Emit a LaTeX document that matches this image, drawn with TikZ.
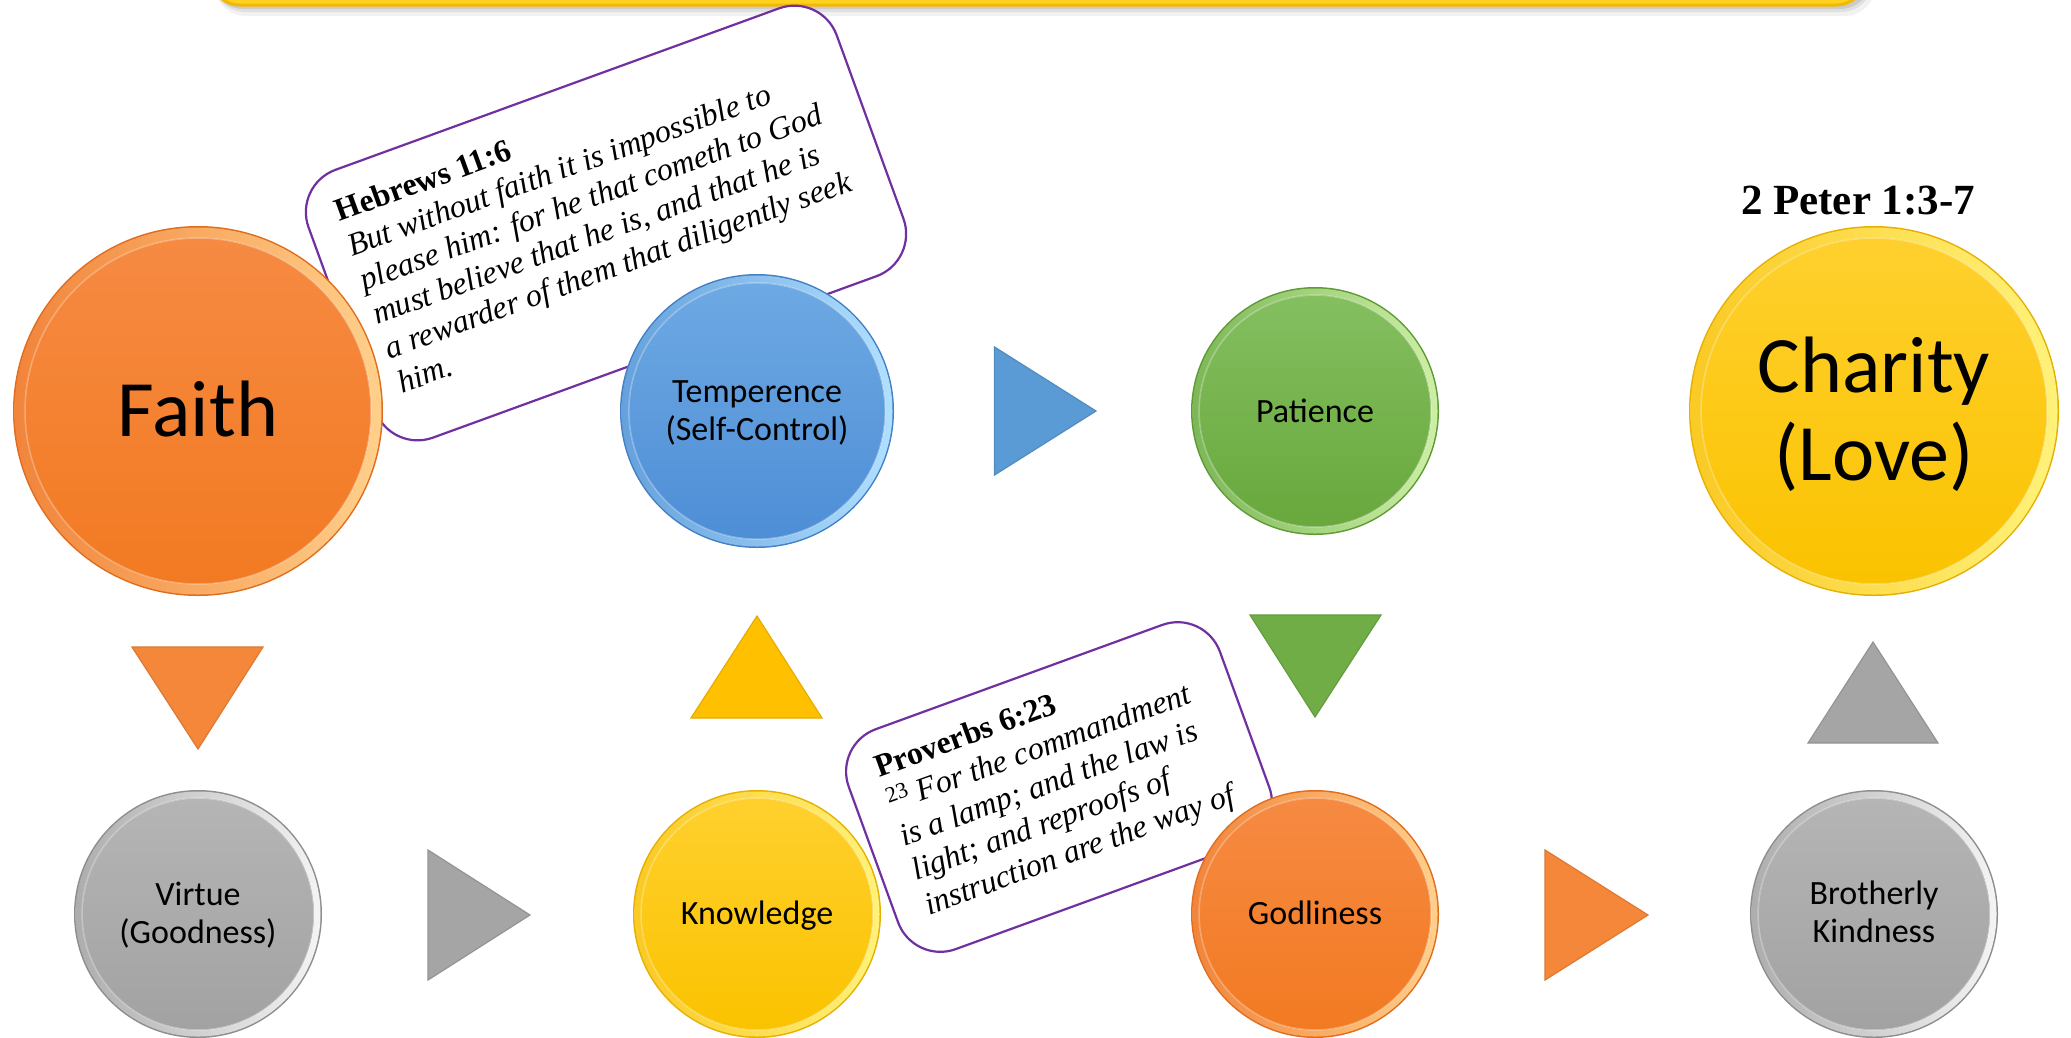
\documentclass[tikz,border=0pt]{standalone}
\usepackage{fontspec}
\setmainfont{Liberation Serif}
\newfontfamily\carl{Carlito}
\definecolor{orT}{HTML}{F68A42}
\definecolor{orB}{HTML}{F27A22}
\definecolor{orE}{HTML}{E06D1E}
\definecolor{orH}{HTML}{FFD08A}
\definecolor{blT}{HTML}{6DA9E3}
\definecolor{blB}{HTML}{4E8ED6}
\definecolor{blE}{HTML}{4580C4}
\definecolor{blH}{HTML}{B0E0FF}
\definecolor{grT}{HTML}{84BF60}
\definecolor{grB}{HTML}{68A83C}
\definecolor{grE}{HTML}{5E9A36}
\definecolor{grH}{HTML}{CDEFA5}
\definecolor{yeT}{HTML}{FFD02E}
\definecolor{yeB}{HTML}{FAC300}
\definecolor{yeE}{HTML}{E6B000}
\definecolor{yeH}{HTML}{FFF27A}
\definecolor{gyT}{HTML}{B5B5B5}
\definecolor{gyB}{HTML}{A2A2A2}
\definecolor{gyE}{HTML}{8E8E8E}
\definecolor{gyH}{HTML}{F4F4F4}
\definecolor{triBlue}{HTML}{5B9BD5}
\definecolor{triGray}{HTML}{A5A5A5}
\definecolor{triOrange}{HTML}{F5873A}
\definecolor{triYellow}{HTML}{FFC000}
\definecolor{triGreen}{HTML}{70AD47}
\definecolor{verse}{HTML}{7030A0}
\definecolor{bannerY}{HTML}{FFD21F}
\definecolor{bannerB}{HTML}{F5B800}
\newcommand\Orb[5]{%
  \node[circle, minimum size={2*#4pt}, inner sep=0pt] (#1) at (#2,#3) {};
  \fill[#5E] (#1.center) circle [radius={#4pt}];
  \path[even odd rule, left color=#5T!80!#5E, middle color=#5T, right color=#5H]
    (#1.center) circle [radius={#4pt-1.5pt}] (#1.center) circle [radius={0.935*#4pt}];
  \path[top color=#5T, bottom color=#5B] (#1.center) circle [radius={0.935*#4pt}];
  \draw[white, opacity=.3, line width=1.5pt] (#1.center) circle [radius={0.935*#4pt}];
}
\begin{document}
\begin{tikzpicture}[x=1pt,y=-1pt,
  lbl/.style={font=\carl\fontsize{34}{38.5}\selectfont, inner sep=0pt, anchor=base},
  big/.style={font=\carl\fontsize{80}{88}\selectfont, inner sep=0pt, anchor=base},
  versebox/.style={draw=verse, fill=white, line width=2.2pt, rounded corners=45pt, inner sep=0pt},
  versetext/.style={font=\fontsize{32}{36.5}\selectfont, inner sep=0pt, anchor=base west},
  tri/.style={line width=1.2pt}]
\useasboundingbox (0,0) rectangle (2071,1037);
\fill[white] (0,0) rectangle (2071,1037);

% banner with shadow
\fill[black, opacity=.05, rounded corners=32pt] (214,-80) rectangle (1876,16);
\fill[black, opacity=.07, rounded corners=32pt] (213,-80) rectangle (1873,12);
\fill[black, opacity=.09, rounded corners=31pt] (212,-80) rectangle (1871,9);
\node[draw=bannerB, fill=bannerY, line width=3pt, rounded corners=30pt,
  minimum width=1656pt, minimum height=85pt, inner sep=0pt] (banner) at (1038,-37.5) {};

% Hebrews callout
\begin{scope}[shift={(606,223)}, rotate=20, transform shape]
  \node[versebox, minimum width=562pt, minimum height=285pt] (heb) at (0,0) {};
  \node[versetext] (hebtxt) at (-250,-92) {\begin{tabular}[t]{@{}l@{}}
    \textbf{Hebrews 11:6}\\
    \textit{But without faith it is impossible to}\\
    \textit{please him: for he that cometh to God}\\
    \textit{must believe that he is, and that he is}\\
    \textit{a rewarder of them that diligently seek}\\
    \textit{him.}\end{tabular}};
\end{scope}

% Proverbs callout
\begin{scope}[shift={(1059,787)}, rotate=20, transform shape]
  \node[versebox, minimum width=395pt, minimum height=234pt] (prov) at (0,0) {};
  \node[versetext] (provtxt) at (-166,-70) {\begin{tabular}[t]{@{}l@{}}
    \textbf{Proverbs 6:23}\\
    \textsuperscript{23} \textit{For the commandment}\\
    \textit{is a lamp; and the law is}\\
    \textit{light; and reproofs of}\\
    \textit{instruction are the way of}\end{tabular}};
\end{scope}

% Faith
\Orb{faith}{198}{411}{185}{or}
\node[big] (faithtxt) at (198,436) {Faith};

% Temperence
\Orb{temp}{757}{411}{137}{bl}
\node[lbl] (temptxt) at (757,402) {\begin{tabular}[t]{@{}c@{}}Temperence\\(Self-Control)\end{tabular}};

% blue arrow
\filldraw[tri, fill=triBlue, draw=triBlue!90!black] (994.5,347) -- (1096,411) -- (994.5,475) -- cycle;

% Patience
\Orb{pat}{1315}{411}{124}{gr}
\node[lbl] (pattxt) at (1315,422) {Patience};

% Charity
\node[font=\bfseries\fontsize{43}{50}\selectfont, inner sep=0pt, anchor=base] (peter) at (1858,214) {2 Peter 1:3-7};
\Orb{charity}{1874}{411}{185}{ye}
\node[big] (chartxt) at (1874,392) {\begin{tabular}[t]{@{}c@{}}Charity\\(Love)\end{tabular}};

% vertical arrows
\filldraw[tri, fill=triOrange, draw=triOrange!90!black] (132,647) -- (263,647) -- (198,749) -- cycle;
\filldraw[tri, fill=triYellow, draw=triYellow!90!black] (691,718) -- (822,718) -- (757,616) -- cycle;
\filldraw[tri, fill=triGreen, draw=triGreen!90!black] (1250,615) -- (1381,615) -- (1315,717) -- cycle;
\filldraw[tri, fill=triGray, draw=triGray!90!black] (1808,743) -- (1938,743) -- (1873,642) -- cycle;

% Virtue
\Orb{virtue}{198}{914}{124}{gy}
\node[lbl] (virtxt) at (198,905) {\begin{tabular}[t]{@{}c@{}}Virtue\\(Goodness)\end{tabular}};
\filldraw[tri, fill=triGray, draw=triGray!90!black] (428,850) -- (530,915) -- (428,980) -- cycle;

% Knowledge
\Orb{know}{757}{914}{124}{ye}
\node[lbl] (knowtxt) at (757,924) {Knowledge};

% Godliness
\Orb{god}{1315}{914}{124}{or}
\node[lbl] (godtxt) at (1315,924) {Godliness};
\filldraw[tri, fill=triOrange, draw=triOrange!90!black] (1545,850) -- (1648,915) -- (1545,980) -- cycle;

% Brotherly Kindness
\Orb{bro}{1874}{914}{124}{gy}
\node[lbl] (brotxt) at (1874,904) {\begin{tabular}[t]{@{}c@{}}Brotherly\\Kindness\end{tabular}};
\end{tikzpicture}
\end{document}
